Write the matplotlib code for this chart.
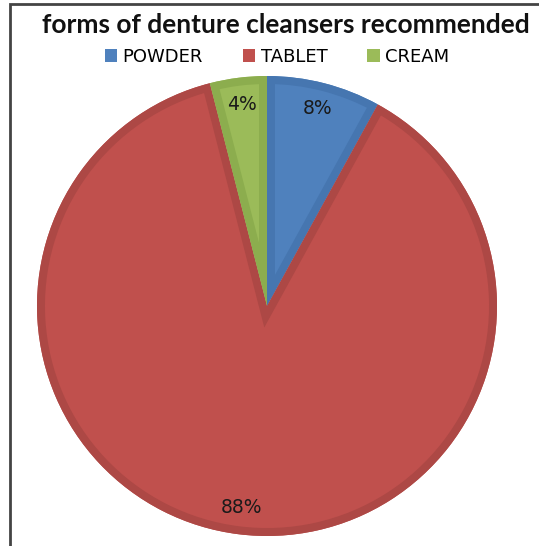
import matplotlib.pyplot as plt
from matplotlib.patches import Rectangle, Wedge

labels = ["POWDER", "TABLET", "CREAM"]
values = [8, 88, 4]
colors = ["#4F81BD", "#C0504D", "#9BBB59"]
edge_colors = ["#4676B0", "#AD4845", "#8CAD4E"]

W, H = 539, 546
fig = plt.figure(figsize=(W / 100, H / 100), dpi=100)

# pie centre (267, 306) px from top-left, radius 230 px
cx, cy, r = 267, 306, 230
ax = fig.add_axes([(cx - r) / W, (H - cy - r) / H, 2 * r / W, 2 * r / H])

wedges, texts, autotexts = ax.pie(
    values, colors=colors, startangle=90, counterclock=False,
    autopct="%1.0f%%", pctdistance=0.885, radius=1.0,
    textprops=dict(fontsize=13.5, color="#1a1a1a", family="DejaVu Sans"),
)
# darker inner border on each slice, like the original
for w, ec in zip(wedges, edge_colors):
    border = Wedge(w.center, w.r, w.theta1, w.theta2, fill=False,
                   edgecolor=ec, linewidth=11.5, zorder=w.get_zorder() + 0.1)
    ax.add_patch(border)
    border.set_clip_path(w)
ax.set_xlim(-1, 1)
ax.set_ylim(-1, 1)
ax.set_aspect("equal")

fig.text(286 / W, 1 - 25 / H, "forms of denture cleansers recommended",
         ha="center", va="center", fontsize=19, fontweight="bold",
         family="Lato", color="#111111")

handles = [Rectangle((0, 0), 1, 1, facecolor=c) for c in colors]
fig.legend(handles, labels, loc="center", bbox_to_anchor=(277 / W, 1 - 57 / H),
           ncol=3, frameon=False, handlelength=0.7, handleheight=0.7,
           handletextpad=0.3, columnspacing=2.2,
           prop=dict(family="DejaVu Sans", size=13))

fig.add_artist(Rectangle((10 / W, -0.1), 1.2, 0.1 + (H - 4) / H,
                         transform=fig.transFigure, fill=False,
                         edgecolor="#444444", linewidth=2))

fig.savefig("out.png", dpi=100)
